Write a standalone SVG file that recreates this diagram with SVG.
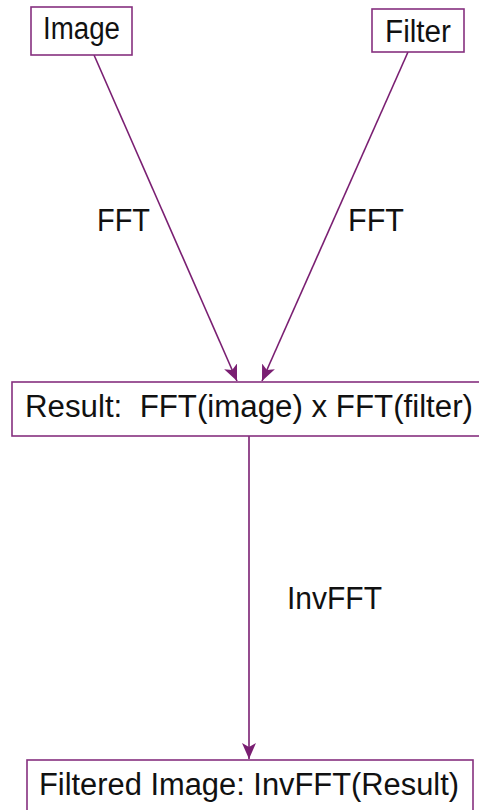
<svg xmlns="http://www.w3.org/2000/svg" width="479" height="810" viewBox="0 0 479 810">
  <style>
    .box { fill: #ffffff; stroke: #86307f; stroke-width: 1.6; }
    .lbl { font-family: "Liberation Sans", Arial, sans-serif; font-size: 31px; fill: #111111; }
    .edge { fill: none; stroke: #7a1f72; stroke-width: 1.6; }
  </style>
  <defs>
    <marker id="arrow" markerUnits="userSpaceOnUse" markerWidth="18" markerHeight="14" refX="16" refY="7" orient="auto">
      <path d="M0,0 L16,7 L0,14 L4,7 Z" fill="#7a1f72"/>
    </marker>
  </defs>

  <!-- connectors -->
  <g id="edges">
    <line class="edge" x1="94" y1="55" x2="237" y2="381" marker-end="url(#arrow)"/>
    <line class="edge" x1="408" y1="52" x2="262" y2="381" marker-end="url(#arrow)"/>
    <line class="edge" x1="249" y1="436" x2="249" y2="759" marker-end="url(#arrow)"/>
    <text class="lbl" x="97" y="231" textLength="53" lengthAdjust="spacingAndGlyphs">FFT</text>
    <text class="lbl" x="348" y="231" textLength="56" lengthAdjust="spacingAndGlyphs">FFT</text>
    <text class="lbl" x="287" y="609" textLength="95" lengthAdjust="spacingAndGlyphs">InvFFT</text>
  </g>

  <g id="node-image">
    <rect class="box" x="31" y="7" width="101" height="48"/>
    <text class="lbl" x="43" y="39" textLength="77" lengthAdjust="spacingAndGlyphs">Image</text>
  </g>

  <g id="node-filter">
    <rect class="box" x="372" y="9" width="92" height="43"/>
    <text class="lbl" x="385" y="42" textLength="66" lengthAdjust="spacingAndGlyphs">Filter</text>
  </g>

  <g id="node-result">
    <rect class="box" x="12" y="382" width="480" height="54"/>
    <text class="lbl" x="25" y="417" textLength="448" lengthAdjust="spacingAndGlyphs">Result:&#160; FFT(image) x FFT(filter)</text>
  </g>

  <g id="node-filtered">
    <rect class="box" x="27" y="760" width="446" height="60"/>
    <text class="lbl" x="39" y="795" textLength="420" lengthAdjust="spacingAndGlyphs">Filtered Image: InvFFT(Result)</text>
  </g>
</svg>
